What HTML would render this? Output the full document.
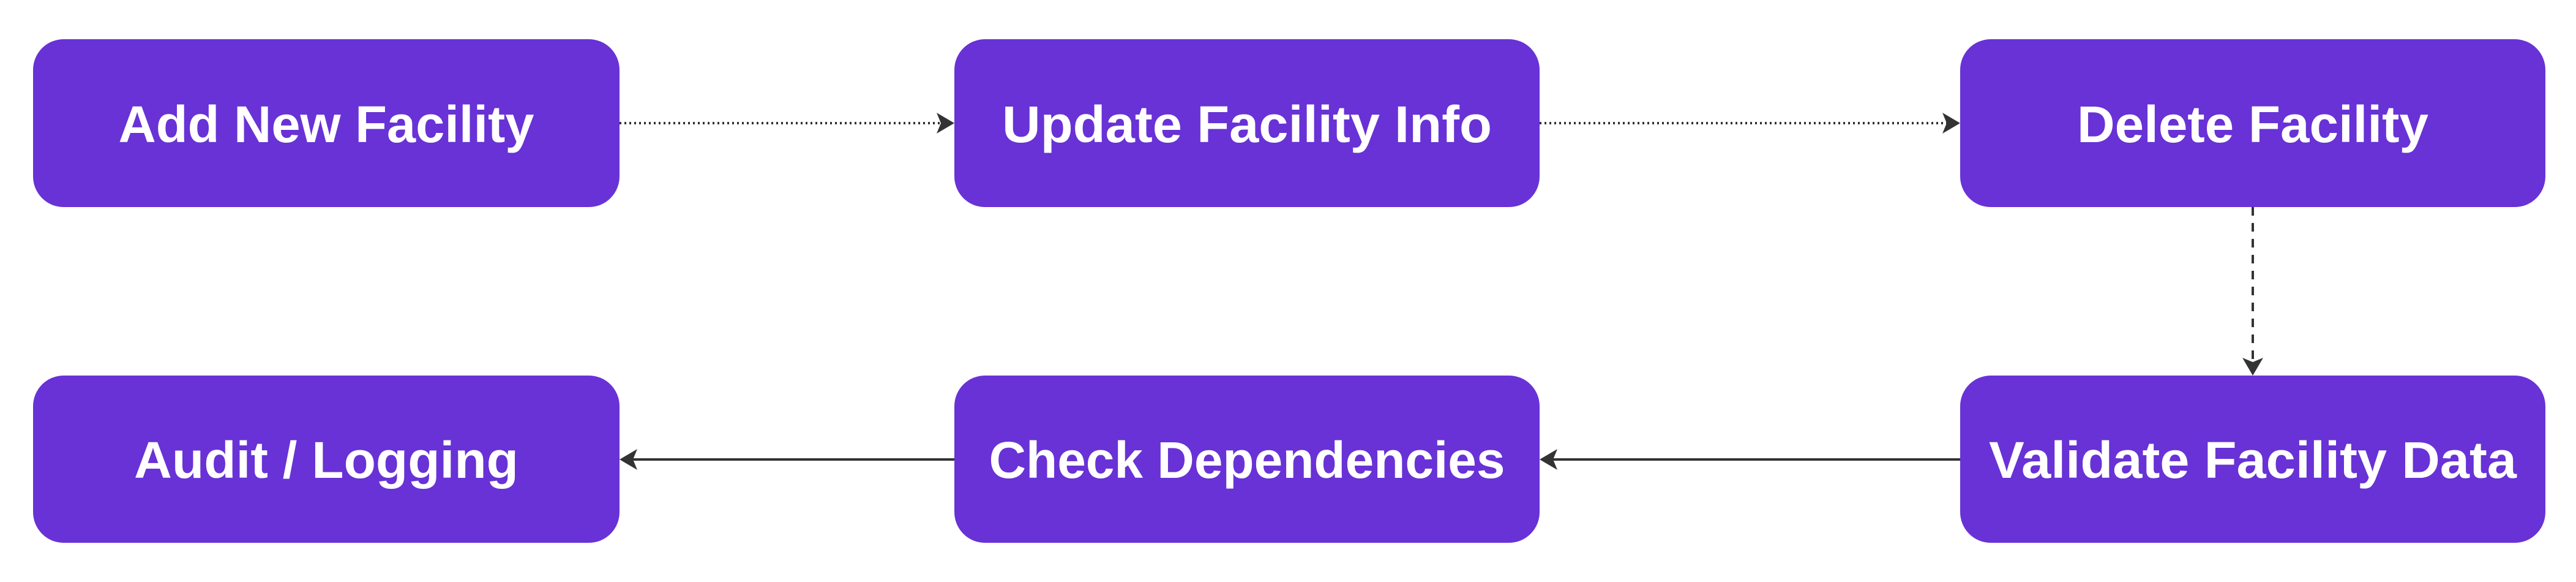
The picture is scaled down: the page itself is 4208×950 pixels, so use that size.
<!DOCTYPE html>
<html><head><meta charset="utf-8"><style>
html,body{margin:0;padding:0;background:#fff;}
svg{display:block;}
text{font-family:"Liberation Sans",sans-serif;font-weight:bold;font-size:84px;fill:#fff;}
</style></head><body>
<svg width="4208" height="950" viewBox="0 0 4208 950" xmlns="http://www.w3.org/2000/svg">
<g fill="#6832d6">
<rect x="54" y="64" width="958" height="274" rx="50"/>
<rect x="1559" y="64" width="956" height="274" rx="50"/>
<rect x="3202" y="64" width="956" height="274" rx="50"/>
<rect x="54" y="613" width="958" height="273" rx="50"/>
<rect x="1559" y="613" width="956" height="273" rx="50"/>
<rect x="3202" y="613" width="956" height="273" rx="50"/>
</g>
<g stroke="#333" stroke-width="4" fill="none">
<line x1="1012" y1="201" x2="1545" y2="201" stroke-dasharray="3 5"/>
<line x1="2515" y1="201" x2="3188" y2="201" stroke-dasharray="3 5"/>
<line x1="3680" y1="338" x2="3680" y2="600" stroke-dasharray="14 12"/>
<line x1="3202" y1="750" x2="2530" y2="750"/>
<line x1="1559" y1="750" x2="1027" y2="750"/>
</g>
<g fill="#333">
<path d="M1559 201 L1530 184 L1537 201 L1530 218 Z"/>
<path d="M3202 201 L3173 184 L3180 201 L3173 218 Z"/>
<path d="M3680 613 L3663 584 L3680 591 L3697 584 Z"/>
<path d="M2515 750 L2544 733 L2537 750 L2544 767 Z"/>
<path d="M1012 750 L1041 733 L1034 750 L1041 767 Z"/>
</g>
<g text-anchor="middle" lengthAdjust="spacingAndGlyphs">
<text x="533" y="232" textLength="679" lengthAdjust="spacingAndGlyphs">Add New Facility</text>
<text x="2037" y="232" textLength="800" lengthAdjust="spacingAndGlyphs">Update Facility Info</text>
<text x="3680" y="232" textLength="574" lengthAdjust="spacingAndGlyphs">Delete Facility</text>
<text x="533" y="780" textLength="628" lengthAdjust="spacingAndGlyphs">Audit / Logging</text>
<text x="2037" y="780" textLength="843" lengthAdjust="spacingAndGlyphs">Check Dependencies</text>
<text x="3680" y="780" textLength="862" lengthAdjust="spacingAndGlyphs">Validate Facility Data</text>
</g>
</svg>
</body></html>
